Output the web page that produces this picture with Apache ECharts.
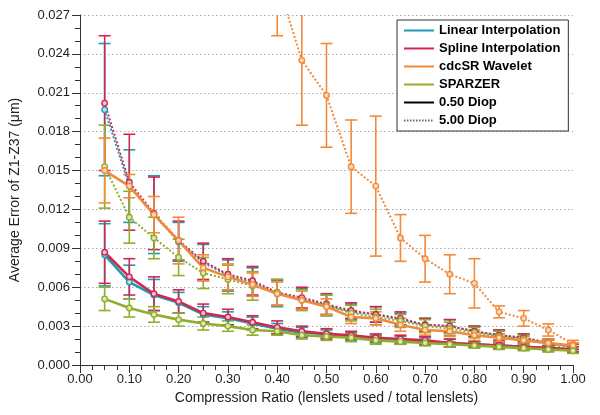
<!DOCTYPE html>
<html><head><meta charset="utf-8">
<script src="https://cdn.jsdelivr.net/npm/echarts@6/dist/echarts.min.js"></script>
<style>html,body{margin:0;padding:0;background:#fff}#c{width:600px;height:415px}</style>
</head><body><div id="c"></div>
<script>
var xs = [0.05,0.10,0.15,0.20,0.25,0.30,0.35,0.40,0.45,0.50,0.55,0.60,0.65,0.70,0.75,0.80,0.85,0.90,0.95,1.00];

var linear05 = [0.0085,0.0064,0.0054,0.0048,0.0039,0.0036,0.0032,0.0028,0.0025,0.0024,0.0022,0.0020,0.0019,0.0018,0.0017,0.0016,0.0015,0.0014,0.0013,0.0012];
var linear05Err = [0.0024,0.0013,0.0012,0.0008,0.0006,0.0005,0.0005,0.0004,0.0004,0.0003,0.0003,0.0003,0.0003,0.0003,0.0003,0.0002,0.0002,0.0002,0.0002,0.0002];
var spline05 = [0.0087,0.0068,0.0055,0.0049,0.0040,0.0037,0.0033,0.0029,0.0026,0.0024,0.0023,0.0021,0.0020,0.0019,0.0017,0.0016,0.0015,0.0014,0.0013,0.0012];
var spline05Err = [0.0024,0.0014,0.0013,0.0009,0.0007,0.0006,0.0005,0.0005,0.0004,0.0004,0.0003,0.0003,0.0003,0.0003,0.0003,0.0002,0.0002,0.0002,0.0002,0.0002];
var cdcsr05 = [0.0150,0.0138,0.0116,0.0096,0.0075,0.0068,0.0062,0.0055,0.0050,0.0045,0.0037,0.0036,0.0031,0.0027,0.0026,0.0023,0.0021,0.0019,0.0017,0.0015];
var cdcsr05Err = [0.0025,0.0009,0.0014,0.0018,0.0010,0.0010,0.0009,0.0009,0.0007,0.0006,0.0005,0.0005,0.0005,0.0004,0.0004,0.0004,0.0003,0.0003,0.0003,0.0002];
var sparzer05 = [0.0051,0.0044,0.0039,0.0035,0.0032,0.0030,0.0027,0.0026,0.0023,0.0022,0.0021,0.0019,0.0018,0.0017,0.0016,0.0015,0.0014,0.0013,0.0012,0.0011];
var sparzer05Err = [0.0009,0.0007,0.0006,0.0005,0.0005,0.0004,0.0004,0.0003,0.0003,0.0003,0.0003,0.0003,0.0002,0.0002,0.0002,0.0002,0.0002,0.0002,0.0002,0.0002];

var linear5 = [0.0197,0.0138,0.0116,0.0095,0.0079,0.0069,0.0064,0.0055,0.0051,0.0046,0.0041,0.0039,0.0035,0.0031,0.0030,0.0026,0.0023,0.0021,0.0017,0.0014];
var linear5Err = [0.0051,0.0028,0.0030,0.0015,0.0014,0.0012,0.0011,0.0010,0.0008,0.0008,0.0006,0.0006,0.0005,0.0005,0.0005,0.0004,0.0004,0.0003,0.0003,0.0002];
var spline5 = [0.0202,0.0141,0.0117,0.0096,0.0080,0.0070,0.0065,0.0056,0.0052,0.0047,0.0042,0.0039,0.0036,0.0031,0.0030,0.0026,0.0023,0.0021,0.0017,0.0014];
var spline5Err = [0.0052,0.0037,0.0028,0.0015,0.0014,0.0012,0.0011,0.0010,0.0008,0.0008,0.0006,0.0006,0.0005,0.0005,0.0005,0.0004,0.0004,0.0003,0.0003,0.0002];
var cdcsr5 = [0.075,0.066,0.058,0.051,0.044,0.039,0.034,0.0296,0.0235,0.0208,0.0153,0.0138,0.0098,0.0082,0.0070,0.0063,0.0041,0.0036,0.0027,0.0016];
var cdcsr5Err = [0.006,0.006,0.006,0.006,0.006,0.006,0.006,0.0042,0.0050,0.0040,0.0036,0.0054,0.0018,0.0018,0.0015,0.0019,0.00046,0.0006,0.00047,0.0003];
var sparzer5 = [0.0153,0.0114,0.0098,0.0083,0.0071,0.0066,0.0061,0.0056,0.0050,0.0046,0.0040,0.0037,0.0034,0.0030,0.0028,0.0025,0.0022,0.0020,0.0016,0.0012];
var sparzer5Err = [0.0032,0.0020,0.0016,0.0014,0.0012,0.0011,0.0011,0.0010,0.0008,0.0008,0.0006,0.0006,0.0005,0.0005,0.0005,0.0004,0.0004,0.0003,0.0003,0.0002];

var methodNames = ['Linear Interpolation','Spline Interpolation','cdcSR Wavelet','SPARZER'];
var diopNames = ['0.50 Diop','5.00 Diop'];

var C = {teal:'#1f9bb3', red:'#d0284f', orange:'#f28a3a', green:'#8fae2c'};
var L = {teal:'#bfe3ea', red:'#f2c3cf', orange:'#fbd9bf', green:'#dde9b8'};

var chart = echarts.init(document.getElementById('c'), null, {renderer:'canvas'});

function pts(vals){ return xs.map(function(x,i){ return [x, vals[i]]; }); }
function bars(vals, errs){ return xs.map(function(x,i){ return [x, vals[i]-errs[i], vals[i]+errs[i]]; }); }

function errSeries(vals, errs, color){
  return {
    type:'custom', silent:true, z:3,
    data: bars(vals, errs),
    encode:{x:0, y:[1,2]},
    renderItem:function(params, api){
      var cs = params.coordSys;
      var p0 = api.coord([api.value(0), api.value(1)]);
      var p1 = api.coord([api.value(0), api.value(2)]);
      var top = cs.y, bot = cs.y + cs.height;
      var yLo = p0[1], yHi = p1[1];
      if (yLo < top) return null;
      var children = [];
      var hw = 6;
      var st = {stroke:color, lineWidth:1.6};
      var yHiC = Math.max(yHi, top);
      children.push({type:'line', shape:{x1:p0[0], y1:Math.min(yLo,bot), x2:p0[0], y2:yHiC}, style:st});
      if (yHi >= top) children.push({type:'line', shape:{x1:p0[0]-hw, y1:yHi, x2:p0[0]+hw, y2:yHi}, style:st});
      if (yLo <= bot) children.push({type:'line', shape:{x1:p0[0]-hw, y1:yLo, x2:p0[0]+hw, y2:yLo}, style:st});
      return {type:'group', children:children};
    }
  };
}
function lineSeries(vals, color, light, dotted){
  return {
    type:'line', data:pts(vals), z:4, silent:true,
    symbol:'circle', symbolSize:5.5, clip:true,
    lineStyle:{color:color, width: dotted?2:2.6, type: dotted?[2,2]:'solid'},
    itemStyle:{color:light, borderColor:color, borderWidth:1.4},
    emphasis:{disabled:true}
  };
}
function legendDummy(name, color, dotted){
  return {name:name, type:'line', data:[], symbol:'none',
    lineStyle:{color:color, width: dotted?1.5:2.5, type: dotted?[1.5,1.5]:'solid'},
    itemStyle:{color:color, opacity:0}};
}

var series = [
  errSeries(linear5, linear5Err, C.teal),
  errSeries(spline5, spline5Err, C.red),
  errSeries(cdcsr5, cdcsr5Err, C.orange),
  errSeries(sparzer5, sparzer5Err, C.green),
  errSeries(linear05, linear05Err, C.teal),
  errSeries(spline05, spline05Err, C.red),
  errSeries(cdcsr05, cdcsr05Err, C.orange),
  errSeries(sparzer05, sparzer05Err, C.green),
  lineSeries(linear5, C.teal, L.teal, true),
  lineSeries(spline5, C.red, L.red, true),
  lineSeries(cdcsr5, C.orange, L.orange, true),
  lineSeries(sparzer5, C.green, L.green, true),
  lineSeries(linear05, C.teal, L.teal, false),
  lineSeries(spline05, C.red, L.red, false),
  lineSeries(cdcsr05, C.orange, L.orange, false),
  lineSeries(sparzer05, C.green, L.green, false),
  legendDummy(methodNames[0], C.teal, false),
  legendDummy(methodNames[1], C.red, false),
  legendDummy(methodNames[2], C.orange, false),
  legendDummy(methodNames[3], C.green, false),
  legendDummy(diopNames[0], '#000', false),
  legendDummy(diopNames[1], '#666', true)
];

var fontFam = 'Liberation Sans, Arial, sans-serif';
chart.setOption({
  animation:false,
  backgroundColor:'#fff',
  grid:{left:78, right:27, top:15, bottom:50, containLabel:false},
  legend:{
    data: methodNames.concat(diopNames).map(function(n){ return {name:n, itemStyle:{opacity:0}}; }),
    orient:'vertical', left:397, top:20,
    itemWidth:30, itemHeight:10, itemGap:5,
    padding:[4,8,4,6],
    borderColor:'#333', borderWidth:1, backgroundColor:'#fff',
    textStyle:{fontFamily:fontFam, fontWeight:'bold', fontSize:13, color:'#000'},
    selectedMode:false, z:10
  },
  xAxis:{
    type:'value', min:0, max:1, interval:0.1,
    name:'Compression Ratio (lenslets used / total lenslets)',
    nameLocation:'middle', nameGap:25,
    nameTextStyle:{fontFamily:fontFam, fontSize:14, color:'#222'},
    axisLine:{show:true, onZero:false, lineStyle:{color:'#333', width:1}},
    axisTick:{show:true, length:8, lineStyle:{color:'#333'}},
    minorTick:{show:true, splitNumber:4, length:5, lineStyle:{color:'#333'}},
    axisLabel:{fontFamily:fontFam, fontSize:13, color:'#222', margin:8, formatter:function(v){return v.toFixed(2);}},
    splitLine:{show:false}
  },
  yAxis:{
    type:'value', min:0, max:0.027, interval:0.003,
    name:'Average Error of Z1-Z37 (\u03bcm)',
    nameLocation:'middle', nameGap:58, nameRotate:90,
    nameTextStyle:{fontFamily:fontFam, fontSize:14, color:'#222'},
    axisLine:{show:true, lineStyle:{color:'#333', width:1}},
    axisTick:{show:true, length:8, lineStyle:{color:'#333'}},
    minorTick:{show:true, splitNumber:3, length:5, lineStyle:{color:'#333'}},
    axisLabel:{fontFamily:fontFam, fontSize:13, color:'#222', margin:10, formatter:function(v){return v.toFixed(3);}},
    splitLine:{show:true, lineStyle:{color:'#aaa', type:[1.5,2.5], width:1}}
  },
  series: series
});
</script>
</body></html>
